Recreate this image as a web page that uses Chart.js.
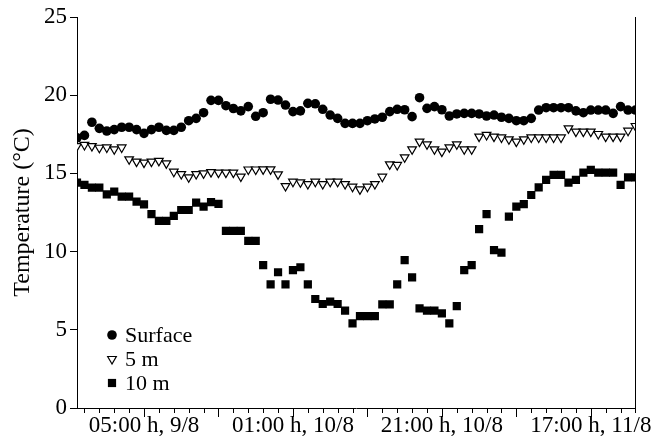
<!DOCTYPE html>
<html>
<head>
<meta charset="utf-8">
<script src="https://cdn.jsdelivr.net/npm/chart.js@4.4.1/dist/chart.umd.min.js"></script>
<style>
  html, body { margin: 0; padding: 0; background: #fff; }
  #wrap { width: 657px; height: 444px; }
</style>
</head>
<body>
<div id="wrap"><canvas id="tempChart" width="657" height="444"></canvas></div>
<script>
// hourly readings, index 0 = 20:00 h, 8/8
const surface = [17.28, 17.43, 18.27, 17.88, 17.71, 17.8, 17.95, 17.95, 17.8, 17.56,
  17.8, 17.95, 17.75, 17.75, 17.95, 18.37, 18.52, 18.88, 19.67, 19.67,
  19.33, 19.15, 19.0, 19.27, 18.65, 18.88, 19.74, 19.69, 19.37, 18.95,
  19.0, 19.48, 19.45, 19.1, 18.73, 18.52, 18.2, 18.2, 18.2, 18.37,
  18.48, 18.59, 18.95, 19.1, 19.07, 18.63, 19.84, 19.16, 19.27, 19.07,
  18.67, 18.8, 18.84, 18.84, 18.8, 18.67, 18.73, 18.59, 18.52, 18.37,
  18.37, 18.52, 19.05, 19.2, 19.2, 19.2, 19.2, 19.0, 18.88, 19.05,
  19.05, 19.05, 18.84, 19.27, 19.05, 19.05];

const depth5 = [16.75, 16.82, 16.75, 16.64, 16.66, 16.54, 16.66, 15.9, 15.75, 15.69,
  15.75, 15.8, 15.64, 15.11, 14.96, 14.75, 14.96, 15.0, 15.08, 15.05,
  15.05, 15.05, 14.8, 15.25, 15.25, 15.26, 15.26, 14.94, 14.19, 14.47,
  14.43, 14.32, 14.47, 14.32, 14.47, 14.47, 14.32, 14.15, 13.98, 14.15,
  14.32, 14.79, 15.58, 15.54, 16.03, 16.54, 17.03, 16.86, 16.54, 16.39,
  16.67, 16.86, 16.54, 16.54, 17.35, 17.46, 17.35, 17.3, 17.18, 17.03,
  17.18, 17.3, 17.3, 17.3, 17.3, 17.3, 17.88, 17.67, 17.67, 17.67,
  17.52, 17.35, 17.35, 17.35, 17.73, 18.03];

const depth10 = [14.41, 14.26, 14.09, 14.09, 13.66, 13.83, 13.51, 13.51, 13.19, 13.02,
  12.4, 11.96, 11.96, 12.28, 12.66, 12.66, 13.13, 12.87, 13.16, 13.05,
  11.32, 11.32, 11.32, 10.68, 10.68, 9.14, 7.91, 8.68, 7.91, 8.82,
  9.0, 7.91, 6.97, 6.65, 6.8, 6.65, 6.22, 5.41, 5.88, 5.88,
  5.88, 6.63, 6.63, 7.91, 9.46, 8.35, 6.37, 6.22, 6.22, 6.05,
  5.41, 6.52, 8.82, 9.14, 11.44, 12.4, 10.1, 9.93, 12.23, 12.87,
  13.04, 13.62, 14.11, 14.58, 14.9, 14.9, 14.41, 14.58, 15.05, 15.22,
  15.05, 15.05, 15.05, 14.26, 14.75, 14.75];

// x axis: labelled ticks, major ticks (every 10 h) and minor ticks (every 2 h)
const labelTicks = [9, 29, 49, 69];
const tickLabels = ['05:00 h, 9/8', '01:00 h, 10/8', '21:00 h, 10/8', '17:00 h, 11/8'];
const majorTicks = [9, 19, 29, 39, 49, 59, 69];
const yTicks = [0, 5, 10, 15, 20, 25];

const seriesNames = ['Surface', '5 m', '10 m'];

function toPoints(arr) {
  return arr.map(function (v, i) { return { x: i, y: v }; });
}

Chart.defaults.font.family = '"Liberation Serif", "Times New Roman", serif';
Chart.defaults.font.size = 23;
Chart.defaults.color = '#000';

const styles = [
  { pointStyle: 'circle', radius: 4.8, rotation: 0, backgroundColor: '#000', borderColor: '#000', borderWidth: 0 },
  { pointStyle: 'triangle', radius: 5, rotation: 180, backgroundColor: '#fff', borderColor: '#000', borderWidth: 1.2 },
  { pointStyle: 'rect', radius: 5.8, rotation: 0, backgroundColor: '#000', borderColor: '#000', borderWidth: 0 }
];

// minor/major ticks on the x axis, right frame line and the legend inside the plot
const extras = {
  id: 'extras',
  afterDraw(chart) {
    const ctx = chart.ctx;
    const xs = chart.scales.x;
    const a = chart.chartArea;
    ctx.save();
    ctx.strokeStyle = '#000';
    ctx.lineWidth = 1;
    ctx.beginPath();
    ctx.moveTo(Math.round(a.right) + 0.5, a.top);
    ctx.lineTo(Math.round(a.right) + 0.5, a.bottom);
    for (let h = xs.min + 1; h <= xs.max; h += 2) {
      const px = Math.round(xs.getPixelForValue(h)) + 0.5;
      const len = majorTicks.indexOf(h) >= 0 ? 9 : 5;
      ctx.moveTo(px, a.bottom);
      ctx.lineTo(px, a.bottom + len);
    }
    ctx.stroke();

    // legend
    const lx = 112, ly = [335, 359, 383];
    ctx.font = '22px "Liberation Serif", serif';
    ctx.textBaseline = 'middle';
    ctx.textAlign = 'left';
    for (let k = 0; k < seriesNames.length; k++) {
      const s = styles[k];
      ctx.fillStyle = s.backgroundColor;
      ctx.strokeStyle = s.borderColor;
      ctx.lineWidth = s.borderWidth;
      Chart.helpers.drawPoint(ctx, s, lx, ly[k]);
      ctx.fillStyle = '#000';
      ctx.fillText(seriesNames[k], lx + 13, ly[k] + 1);
    }
    ctx.restore();
  }
};

function makeSet(k, arr) {
  const s = styles[k];
  return {
    label: seriesNames[k],
    data: toPoints(arr),
    showLine: false,
    pointStyle: s.pointStyle,
    pointRadius: s.radius,
    pointHoverRadius: s.radius,
    pointRotation: s.rotation,
    pointBackgroundColor: s.backgroundColor,
    pointBorderColor: s.borderColor,
    pointBorderWidth: s.borderWidth
  };
}

const ctxTemp = document.getElementById('tempChart');
new Chart(ctxTemp, {
  type: 'scatter',
  data: {
    datasets: [makeSet(0, surface), makeSet(1, depth5), makeSet(2, depth10)]
  },
  options: {
    responsive: false,
    animation: false,
    layout: { padding: { left: 0, right: 20, top: 17, bottom: 0 } },
    plugins: {
      legend: { display: false },
      tooltip: { enabled: false }
    },
    scales: {
      x: {
        type: 'linear',
        min: 0,
        max: 75,
        afterBuildTicks: function (scale) {
          scale.ticks = labelTicks.map(function (v) { return { value: v }; });
        },
        afterFit: function (scale) { scale.height = 36; },
        ticks: {
          maxRotation: 0,
          autoSkip: false,
          padding: 4,
          callback: function (v) {
            const i = labelTicks.indexOf(v);
            return i >= 0 ? tickLabels[i] : '';
          }
        },
        grid: { display: true, drawOnChartArea: false, drawTicks: false },
        border: { display: true, color: '#000', width: 1 }
      },
      y: {
        min: 0,
        max: 25,
        afterBuildTicks: function (scale) {
          scale.ticks = yTicks.map(function (v) { return { value: v }; });
        },
        afterFit: function (scale) { scale.width = 77; },
        ticks: { padding: 3 },
        grid: { drawOnChartArea: false, drawTicks: true, tickLength: 7, color: '#000' },
        border: { display: true, color: '#000', width: 1 },
        title: {
          display: true,
          text: 'Temperature (°C)',
          font: { size: 24 },
          padding: { top: 8, bottom: 0 }
        }
      }
    }
  },
  plugins: [extras]
});
</script>
</body>
</html>
